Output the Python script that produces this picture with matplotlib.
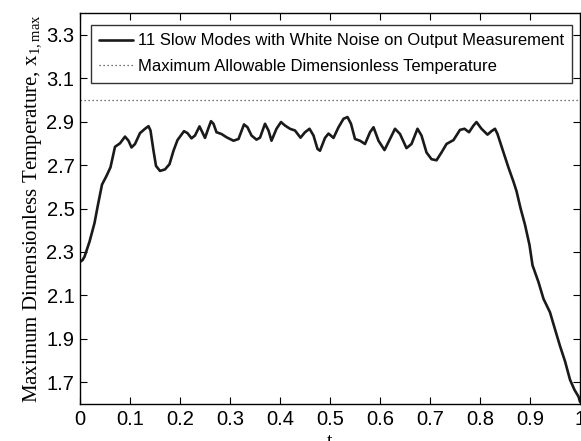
import numpy as np
import matplotlib
matplotlib.use('Agg')
import matplotlib.pyplot as plt

# maximum dimensionless temperature along the reactor, read at points in t
t = [0.0, 0.005, 0.009, 0.019, 0.029, 0.036, 0.044, 0.053, 0.061, 0.07, 0.08,
     0.09, 0.097, 0.103, 0.11, 0.12, 0.13, 0.137, 0.141, 0.147, 0.152, 0.16,
     0.17, 0.179, 0.187, 0.195, 0.208, 0.215, 0.223, 0.23, 0.239, 0.243, 0.25,
     0.257, 0.262, 0.267, 0.273, 0.283, 0.293, 0.307, 0.317, 0.328, 0.335, 0.343,
     0.353, 0.36, 0.37, 0.377, 0.383, 0.393, 0.402, 0.41, 0.42, 0.43, 0.441,
     0.45, 0.459, 0.467, 0.475, 0.48, 0.49, 0.497, 0.507, 0.517, 0.527, 0.535,
     0.542, 0.55, 0.56, 0.57, 0.58, 0.587, 0.597, 0.609, 0.62, 0.63, 0.64,
     0.653, 0.663, 0.675, 0.683, 0.693, 0.703, 0.713, 0.723, 0.733, 0.747, 0.76,
     0.769, 0.778, 0.787, 0.793, 0.803, 0.815, 0.823, 0.83, 0.835, 0.847, 0.857,
     0.867, 0.873, 0.881, 0.89, 0.899, 0.905, 0.917, 0.927, 0.94, 0.95, 0.96,
     0.97, 0.98, 0.989, 0.997, 1.0]
x1max = [2.255, 2.262, 2.278, 2.347, 2.433, 2.518, 2.61, 2.65, 2.69, 2.784, 2.8,
         2.831, 2.812, 2.781, 2.797, 2.847, 2.867, 2.879, 2.859, 2.766, 2.696, 2.673,
         2.68, 2.704, 2.766, 2.815, 2.856, 2.847, 2.823, 2.836, 2.878, 2.859, 2.825,
         2.871, 2.902, 2.89, 2.851, 2.843, 2.828, 2.812, 2.82, 2.887, 2.874, 2.836,
         2.817, 2.826, 2.89, 2.859, 2.812, 2.867, 2.898, 2.882, 2.867, 2.859, 2.826,
         2.851, 2.867, 2.836, 2.774, 2.766, 2.825, 2.845, 2.825, 2.874, 2.913, 2.921,
         2.89, 2.82, 2.812, 2.797, 2.851, 2.874, 2.812, 2.769, 2.82, 2.867, 2.843,
         2.778, 2.797, 2.867, 2.836, 2.758, 2.727, 2.722, 2.758, 2.797, 2.815, 2.862,
         2.867, 2.851, 2.882, 2.898, 2.867, 2.84, 2.856, 2.867, 2.843, 2.758, 2.688,
         2.623, 2.58, 2.502, 2.425, 2.332, 2.239, 2.161, 2.084, 2.022, 1.944, 1.867,
         1.797, 1.712, 1.665, 1.634, 1.61]
x_limit = 3.0

xticks = [0, 0.1, 0.2, 0.3, 0.4, 0.5, 0.6, 0.7, 0.8, 0.9, 1]
xticklabels = ['0', '0.1', '0.2', '0.3', '0.4', '0.5', '0.6', '0.7', '0.8', '0.9', '1']
yticks = [1.7, 1.9, 2.1, 2.3, 2.5, 2.7, 2.9, 3.1, 3.3]

fig = plt.figure(figsize=(5.81, 4.41), dpi=100)
ax = fig.add_axes([80 / 581, 37 / 441, 500 / 581, 391 / 441])

ax.plot(t, x1max, color='#1a1a1a', lw=1.9, solid_joinstyle='round',
        solid_capstyle='round',
        label='11 Slow Modes with White Noise on Output Measurement')
ax.plot([0, 1], [x_limit, x_limit], color='#444444', lw=0.9, linestyle=(0, (1, 2.2)),
        label='Maximum Allowable Dimensionless Temperature')

ax.set_xlim(0, 1)
ax.set_ylim(1.6, 3.4)
ax.set_xticks(xticks)
ax.set_xticklabels(xticklabels)
ax.set_yticks(yticks)
ax.tick_params(direction='in', length=5, width=0.8, top=True, right=True,
               labelsize=14.5, pad=4)
for lab in ax.get_xticklabels() + ax.get_yticklabels():
    lab.set_family('Liberation Sans')
for sp in ax.spines.values():
    sp.set_linewidth(1.0)

ax.set_ylabel('Maximum Dimensionless Temperature, x$_{\\mathregular{1,max}}$',
              family='Liberation Serif', fontsize=15, labelpad=2)
ax.set_xlabel('t', family='Liberation Serif', fontsize=14, labelpad=3)

leg = ax.legend(loc='upper left', bbox_to_anchor=(0.022, 0.969), borderaxespad=0,
                prop={'family': 'Liberation Sans', 'size': 12}, frameon=True,
                fancybox=False, handlelength=2.0, handletextpad=0.3,
                borderpad=0.5, labelspacing=0.65)
leg.get_frame().set_edgecolor('black')
leg.get_frame().set_linewidth(1.0)

fig.savefig('out.png', dpi=100)
